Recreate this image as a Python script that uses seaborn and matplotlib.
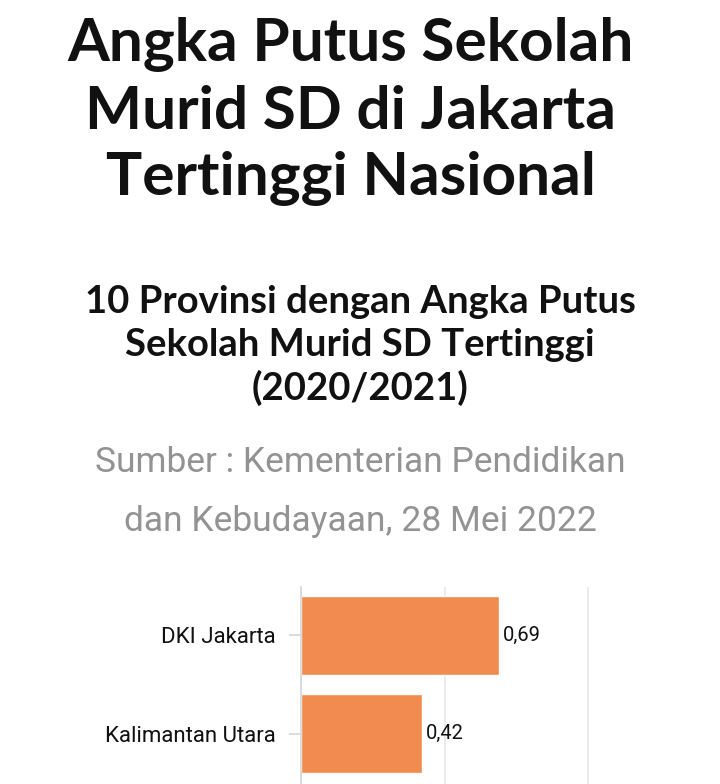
import matplotlib
matplotlib.use("Agg")
import matplotlib.pyplot as plt
import seaborn as sns
import pandas as pd

# ------------------ Data ------------------
provinces = ["DKI Jakarta", "Kalimantan Utara"]
dropout_rate = [0.69, 0.42]

title_lines = ["Angka Putus Sekolah", "Murid SD di Jakarta", "Tertinggi Nasional"]
subtitle_lines = ["10 Provinsi dengan Angka Putus", "Sekolah Murid SD Tertinggi", "(2020/2021)"]
source_lines = ["Sumber : Kementerian Pendidikan", "dan Kebudayaan, 28 Mei 2022"]

BAR_COLOR = "#F28B4F"
GRID_COLOR = "#e8e8ea"

sns.set_theme(style="white")
plt.rcParams['font.family'] = ['Lato', 'DejaVu Sans']

df = pd.DataFrame({"Provinsi": provinces, "Angka": dropout_rate})

fig = plt.figure(figsize=(7.2, 7.84), dpi=100)

# ------------------ Headings ------------------
for i, line in enumerate(title_lines):
    fig.text(0.487, 1 - (45 + 67 * i) / 784, line, ha="center", va="center",
             fontsize=43.5, fontweight="bold", color="#111111")

for i, line in enumerate(subtitle_lines):
    fig.text(0.5, 1 - (302 + 43 * i) / 784, line, ha="center", va="center",
             fontsize=27.5, fontweight="bold", color="#111111")

for i, line in enumerate(source_lines):
    fig.text(0.5, 1 - (463 + 59 * i) / 784, line, ha="center", va="center",
             fontsize=25.5, fontweight="normal", color="#939393",
             family=["Roboto", "DejaVu Sans"])

# ------------------ Chart ------------------
ax = fig.add_axes([301 / 720, 0, 419 / 720, (784 - 587) / 784])
sns.barplot(data=df, y="Provinsi", x="Angka", orient="h", color=BAR_COLOR,
            saturation=1, width=0.8, ax=ax)

ax.set_xlim(0, 419 / 287)
ax.set_ylim(1.51, -0.49)
ax.set_xticks([0, 0.5, 1.0])
ax.xaxis.grid(True, color=GRID_COLOR, linewidth=1.2)
ax.set_axisbelow(True)
ax.tick_params(axis="x", bottom=False, labelbottom=False)
ax.tick_params(axis="y", left=True, length=9, width=1.2, color="#d5d5d8",
               labelsize=16, pad=9, labelcolor="#111111")
for lbl in ax.get_yticklabels():
    lbl.set_fontfamily(["Roboto", "DejaVu Sans"])
ax.set_xlabel("")
ax.set_ylabel("")
for side in ["top", "right", "bottom"]:
    ax.spines[side].set_visible(False)
ax.spines["left"].set_color("#d5d5d8")
ax.spines["left"].set_linewidth(1.2)

labels = [f"{v:.2f}".replace(".", ",") for v in dropout_rate]
texts = ax.bar_label(ax.containers[0], labels=labels, padding=3, fontsize=14.5, color="#111111")
for t in texts:
    t.set_fontfamily(["Roboto", "DejaVu Sans"])

fig.savefig("out.png", dpi=100)
